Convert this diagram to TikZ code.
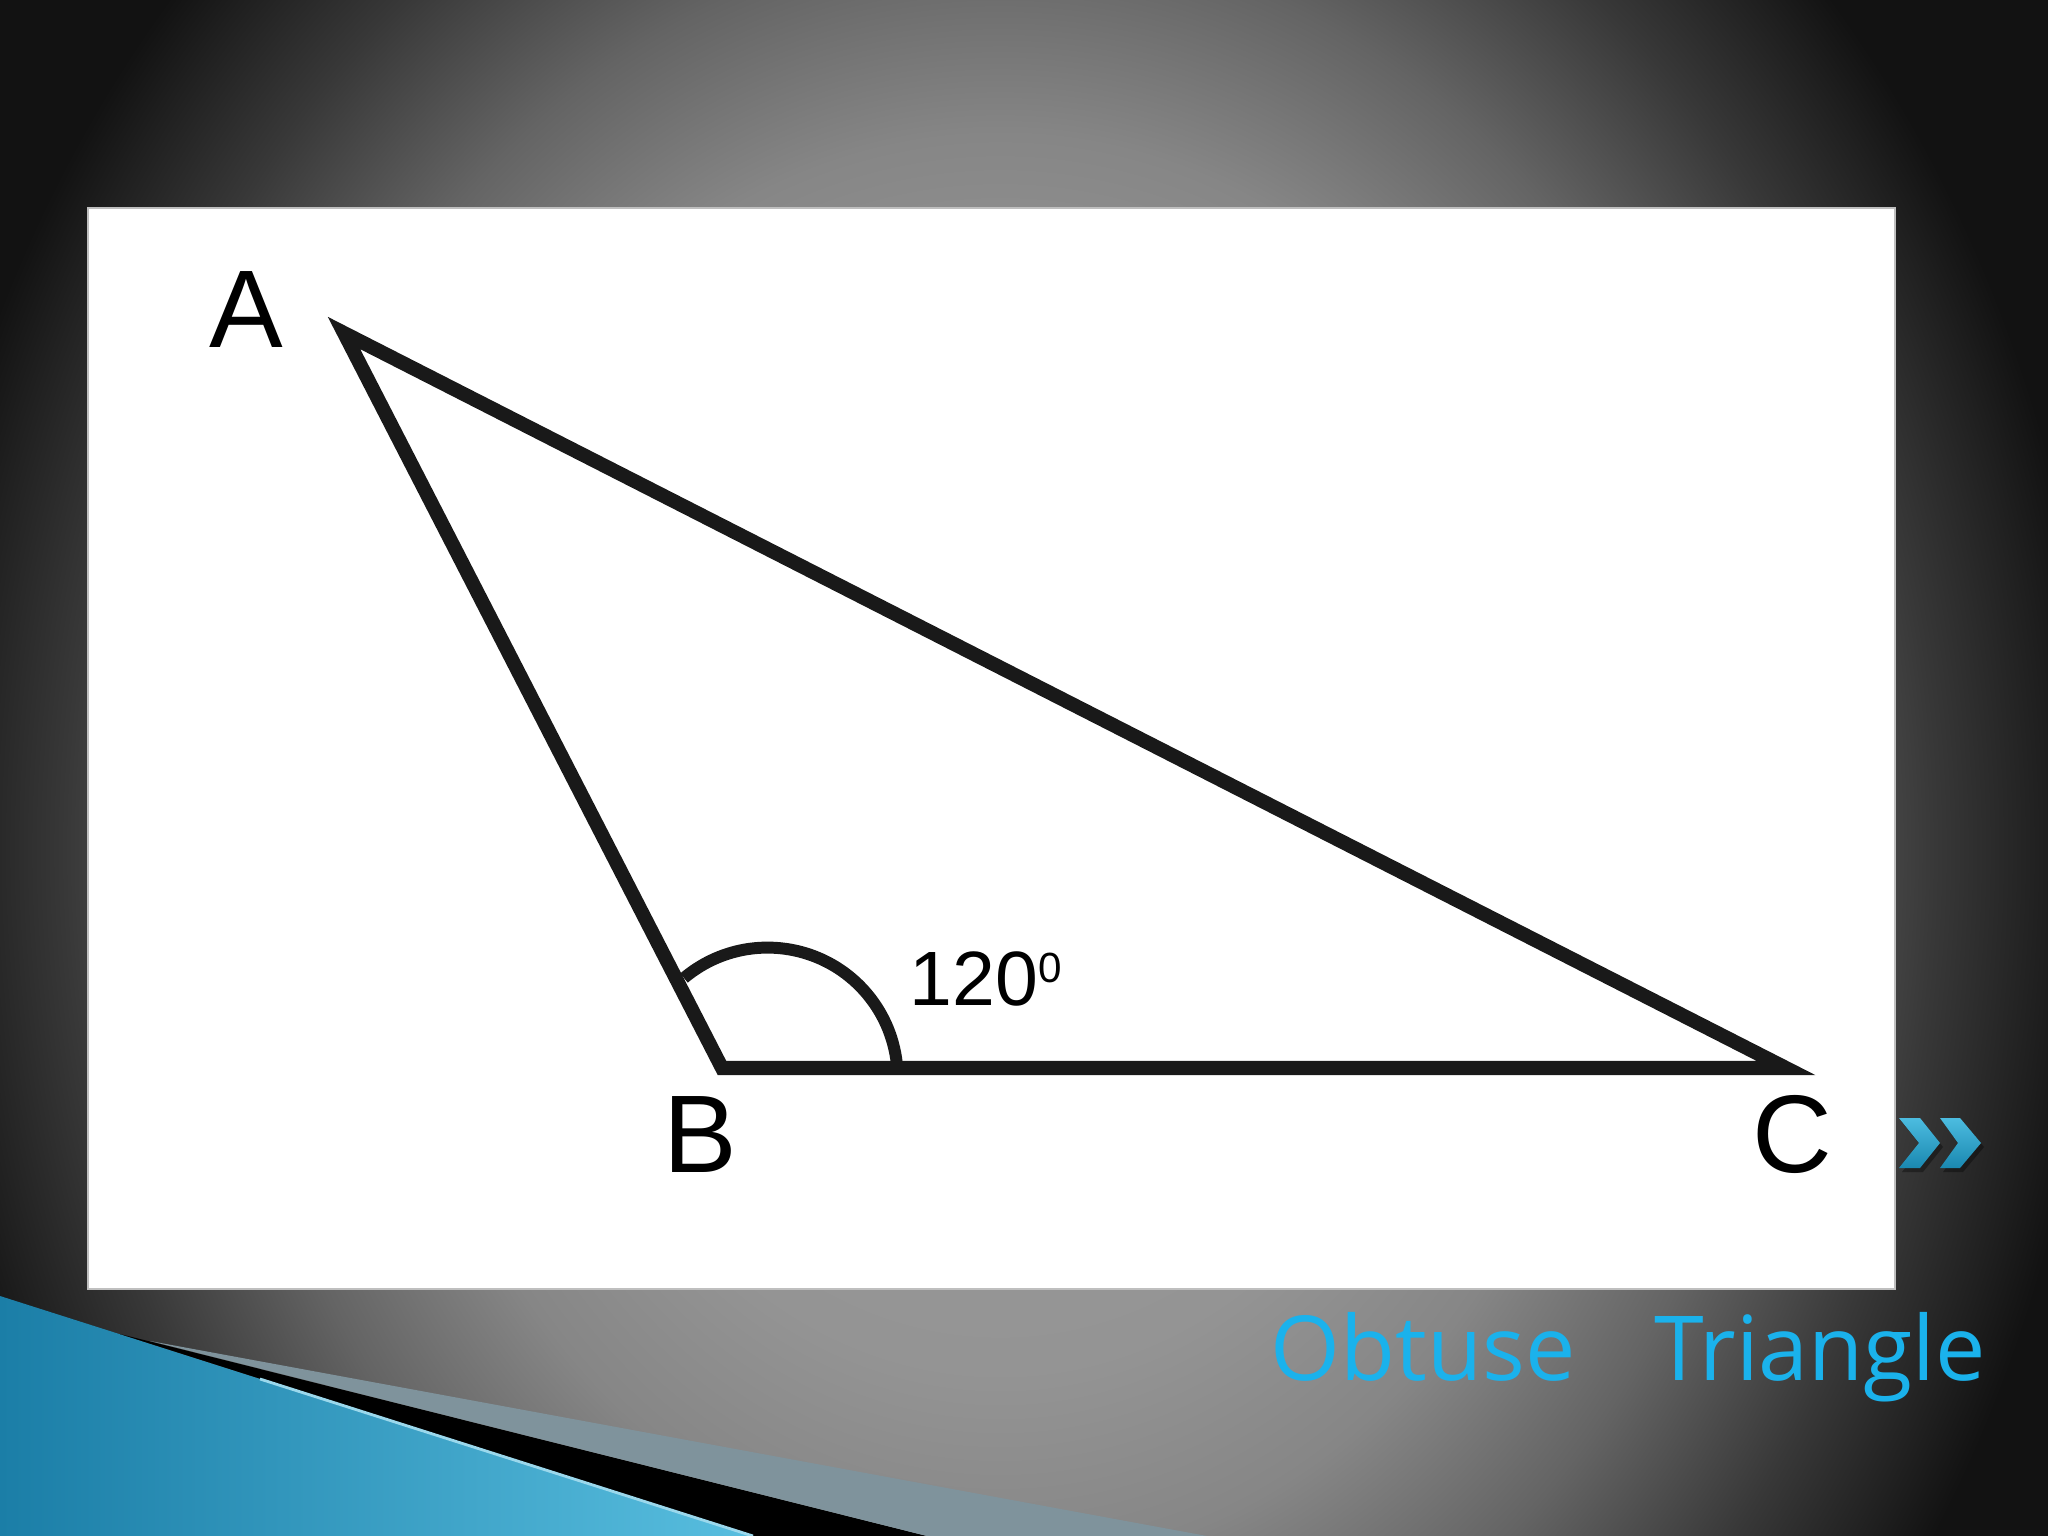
\documentclass[tikz,border=0pt]{standalone}
\usepackage{fontspec}
\setmainfont{Liberation Sans}
\newfontfamily\titlefont{Open Sans}
\definecolor{bgA}{HTML}{9C9C9C}
\definecolor{bgB}{HTML}{949494}
\definecolor{bgC}{HTML}{868686}
\definecolor{bgD}{HTML}{646464}
\definecolor{bgE}{HTML}{383838}
\definecolor{bgF}{HTML}{1F1F1F}
\definecolor{bgG}{HTML}{121212}
\definecolor{swooshdark}{HTML}{1B7EA7}
\definecolor{swooshlight}{HTML}{58BEDF}
\definecolor{steelband}{HTML}{7F939C}
\definecolor{titlecyan}{HTML}{1AB2EC}
\definecolor{chevtop}{HTML}{4CBCE0}
\definecolor{chevbot}{HTML}{1A88B0}
\pgfdeclareradialshading{slidebg}{\pgfpoint{0bp}{0bp}}{color(0bp)=(bgA); color(10bp)=(bgB); color(13.75bp)=(bgC); color(17.5bp)=(bgD); color(21.25bp)=(bgE); color(23.75bp)=(bgF); color(25bp)=(bgG); color(50bp)=(bgG)}
\tikzset{
  >=latex,
}
\tikzstyle{side}=[line width=4pt,line join=miter,black!90]
\tikzstyle{anglemark}=[line width=3.4pt,black!90]
\tikzstyle{vertexlabel}=[inner sep=0pt,anchor=base,font=\fontsize{31.4}{36}\selectfont]
\tikzstyle{anglelabel}=[inner sep=0pt,anchor=base west,font=\fontsize{21.9}{26}\selectfont]
\tikzstyle{slidetitle}=[inner sep=0pt,anchor=base west,text=titlecyan,font=\titlefont\fontsize{25.5}{30}\selectfont]
\tikzstyle{chevron}=[top color=chevtop,bottom color=chevbot]

\begin{document}
\begin{tikzpicture}[x=0.01cm,y=-0.01cm]
    \useasboundingbox (0,0) rectangle (2048,1536);
    \begin{scope}
      \clip (0,0) rectangle (2048,1536);
      \fill[bgG] (0,0) rectangle (2048,1536);
      \shade[shading=slidebg] (1000,850) ellipse [x radius=1100, y radius=1300];
    \end{scope}

    \fill[white,draw=gray!50,line width=0.5pt] (88,208) rectangle (1895,1289);

    \shade[left color=swooshdark,right color=swooshlight] (0,1296) -- (753,1536) -- (0,1536) -- cycle;
    \fill[black] (120,1334) -- (927,1536) -- (753,1536) -- cycle;
    \fill[steelband] (150,1341) -- (1207,1536) -- (927,1536) -- cycle;
    \draw[swooshlight!60!white,line width=0.8pt] (260,1379) -- (753,1536);

    \coordinate (A) at (344,333);
    \coordinate (B) at (722,1068);
    \coordinate (C) at (1786,1068);
    \draw[side] (A) -- (B) -- (C) -- cycle;

    \coordinate (arcS) at (684,978);
    \draw[anglemark] (arcS) arc[start angle=-130, end angle=-4, radius=130];

    \node[vertexlabel] (labA) at (246,347) {A};
    \node[vertexlabel] (labB) at (700,1172) {B};
    \node[vertexlabel] (labC) at (1792,1172) {C};
    \node[anglelabel] (labAngle) at (909,1005) {120\raisebox{6.5pt}{\fontsize{12}{14}\selectfont 0}};

    \fill[black,opacity=0.35] (1902,1122) -- (1923,1122) -- (1943,1147) -- (1923,1172) -- (1902,1172) -- (1922,1147) -- cycle;
    \fill[black,opacity=0.35] (1943,1122) -- (1963,1122) -- (1984,1147) -- (1963,1172) -- (1943,1172) -- (1961,1147) -- cycle;
    \shade[chevron] (1899,1118) -- (1920,1118) -- (1940,1143) -- (1920,1168) -- (1899,1168) -- (1919,1143) -- cycle;
    \shade[chevron] (1940,1118) -- (1960,1118) -- (1981,1143) -- (1960,1168) -- (1940,1168) -- (1958,1143) -- cycle;

    \node[slidetitle] (title) at (1270,1380) {Obtuse\hspace{0.79cm}Triangle};
\end{tikzpicture}
\end{document}
